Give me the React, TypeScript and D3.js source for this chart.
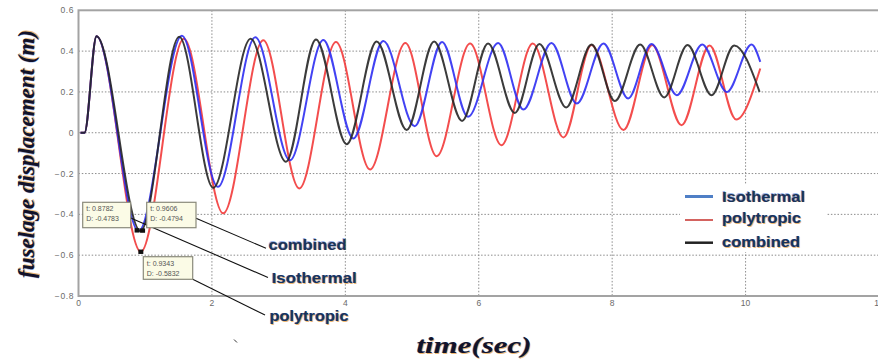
import React from 'react';
import * as d3 from 'd3';

const W = 878;
const H = 362;

// axis ticks
const xTicks = [0, 2, 4, 6, 8, 10, 12];
const yTicks = [-0.8, -0.6, -0.4, -0.2, 0, 0.2, 0.4, 0.6];

// isothermal (blue) - extrema
const isoT = [0.03, 0.09, 0.27, 0.9, 1.55, 2.09, 2.65, 3.17, 3.67, 4.12, 4.57, 5.04, 5.45, 5.84, 6.29, 6.67, 7.09, 7.47, 7.87, 8.24, 8.59, 8.97, 9.35, 9.72, 10.09, 10.22];
const isoD = [0, 0, 0.473, -0.482, 0.475, -0.265, 0.468, -0.135, 0.455, -0.028, 0.45, 0.032, 0.445, 0.078, 0.44, 0.114, 0.44, 0.143, 0.437, 0.168, 0.435, 0.184, 0.432, 0.2, 0.432, 0.347];

// polytropic (red)
const polyT = [0.03, 0.09, 0.27, 0.934, 1.58, 2.17, 2.77, 3.31, 3.86, 4.37, 4.9, 5.37, 5.87, 6.34, 6.81, 7.27, 7.69, 8.17, 8.6, 9.04, 9.46, 9.86, 10.22];
const polyD = [0, 0, 0.473, -0.583, 0.46, -0.395, 0.453, -0.273, 0.445, -0.18, 0.44, -0.115, 0.437, -0.061, 0.437, -0.023, 0.43, 0.013, 0.43, 0.037, 0.428, 0.065, 0.315];

// combined (black)
const combT = [0.03, 0.09, 0.27, 0.93, 1.51, 2.02, 2.58, 3.11, 3.56, 4.02, 4.47, 4.92, 5.33, 5.75, 6.14, 6.54, 6.91, 7.31, 7.69, 8.04, 8.42, 8.78, 9.13, 9.49, 9.83, 10.21];
const combD = [0, 0, 0.473, -0.482, 0.47, -0.27, 0.46, -0.142, 0.457, -0.056, 0.447, 0.013, 0.447, 0.058, 0.437, 0.097, 0.435, 0.124, 0.432, 0.155, 0.432, 0.173, 0.43, 0.184, 0.428, 0.2];

// data tips
const tipNames = ['isothermal', 'combined', 'polytropic'];
const tipT = [0.8782, 0.9606, 0.9343];
const tipD = [-0.4783, -0.4794, -0.5832];

const seriesNames = ['Isothermal', 'polytropic', 'combined'];

const x = d3.scaleLinear().domain([0, 12]).range([78.5, 879]);
const y = d3.scaleLinear().domain([-0.8, 0.6]).range([296, 10.3]);

const line = d3.line<[number, number]>()
  .x(d => x(d[0]))
  .y(d => y(d[1]))
  .curve(d3.curveMonotoneX);

const zip = (t: number[], v: number[]) => t.map((ti, i) => [ti, v[i]] as [number, number]);

// text with the slight colour fringe seen in the scan
const Fringe = ({ children, tf, ...p }: any) => (
  <g transform={tf}>
    <text {...p} fill="#e89a3a" opacity={0.7} transform="translate(0.9,0.6)">{children}</text>
    <text {...p} fill="#3a6fd8" opacity={0.5} transform="translate(-0.6,-0.4)">{children}</text>
    <text {...p}>{children}</text>
  </g>
);

export default function App() {
  const series = [
    { name: 'polytropic', pts: zip(polyT, polyD), color: '#f23a3a' },
    { name: 'isothermal', pts: zip(isoT, isoD), color: '#2e2ef2' },
    { name: 'combined', pts: zip(combT, combD), color: '#262626' },
  ];

  const tipBoxes = [
    { bx: 82.7, by: 202.3, bw: 48, bh: 25.4 },
    { bx: 146.7, by: 202.3, bw: 49.3, bh: 25.4 },
    { bx: 143.3, by: 256.7, bw: 49.4, bh: 22.6 },
  ];

  const labelFont = { fontFamily: 'Liberation Sans, Arial, sans-serif', fontWeight: 700, fontSize: 15, fill: '#17325e' };

  return (
    <svg width={W} height={H} style={{ position: 'absolute', left: 0, top: 0, background: '#fff' }}>
      {/* grid */}
      {xTicks.filter(t => t > 0 && t < 12).map(t => (
        <line key={'gx' + t} x1={x(t)} x2={x(t)} y1={y(0.6)} y2={y(-0.8)} stroke="#8c8c8c" strokeDasharray="1.5,1.8" />
      ))}
      {yTicks.filter(t => t > -0.8 && t < 0.6).map(t => (
        <line key={'gy' + t} x1={x(0)} x2={W} y1={y(t)} y2={y(t)} stroke="#8c8c8c" strokeDasharray="1.5,1.8" />
      ))}

      {/* legend background hides grid */}
      <rect x={680} y={184} width={147} height={68} fill="#fff" />

      {/* frame */}
      <rect x={x(0)} y={y(0.6)} width={W} height={y(-0.8) - y(0.6)} fill="none" stroke="#a3a3a3" strokeWidth={2} />

      {/* tick labels */}
      {yTicks.map(t => (
        <text key={'yl' + t} x={74} y={y(t) + 3} textAnchor="end" fontSize={8.5} letterSpacing={0.6}
          fontFamily="Liberation Sans, Arial, sans-serif" fill="#6a6a6a">{t === 0 ? '0' : d3.format('.1f')(t)}</text>
      ))}
      {xTicks.map(t => (
        <text key={'xl' + t} x={x(t)} y={306} textAnchor="middle" fontSize={8.5}
          fontFamily="Liberation Sans, Arial, sans-serif" fill="#6a6a6a">{t}</text>
      ))}

      {/* curves */}
      {series.map(s => (
        <path key={s.name} d={line(s.pts) || ''} fill="none" stroke={s.color} strokeWidth={2} strokeOpacity={0.9} />
      ))}

      {/* data tip leaders */}
      <line x1={130.7} y1={218} x2={268} y2={277.5} stroke="#111" strokeWidth={1.1} />
      <line x1={196} y1={218.3} x2={266} y2={248.3} stroke="#111" strokeWidth={1.1} />
      <line x1={192.7} y1={279.3} x2={265} y2={315} stroke="#111" strokeWidth={1.1} />

      {/* data tips */}
      {tipNames.map((n, i) => {
        const b = tipBoxes[i];
        return (
          <g key={n}>
            <rect x={x(tipT[i]) - 2.5} y={y(tipD[i]) - 2.2} width={5} height={4.4} fill="#111" />
            <rect x={b.bx} y={b.by} width={b.bw} height={b.bh} fill="#fbfbe6" stroke="#8a8a7a" strokeWidth={1.2} />
            <text x={b.bx + 3.5} y={b.by + 9} fontSize={7} fontFamily="Liberation Sans, Arial, sans-serif" fill="#555">{`t: ${tipT[i]}`}</text>
            <text x={b.bx + 3.5} y={b.by + 19} fontSize={7} fontFamily="Liberation Sans, Arial, sans-serif" fill="#555">{`D: ${tipD[i]}`}</text>
          </g>
        );
      })}

      {/* annotation labels */}
      <Fringe x={268.5} y={249.5} textLength={78} lengthAdjust="spacingAndGlyphs" {...labelFont}>combined</Fringe>
      <Fringe x={271.7} y={283} textLength={85} lengthAdjust="spacingAndGlyphs" {...labelFont}>Isothermal</Fringe>
      <Fringe x={269.5} y={321} textLength={79} lengthAdjust="spacingAndGlyphs" {...labelFont}>polytropic</Fringe>

      {/* legend */}
      {seriesNames.map((n, i) => {
        const ly = [196.5, 220, 242.7][i];
        const col = ['#4f7fc6', '#d0524e', '#222'][i];
        const sw = [3, 1.8, 2.5][i];
        const tl = [83, 79, 78][i];
        const by = [201.5, 223, 247][i];
        return (
          <g key={n}>
            <line x1={685} x2={713} y1={ly} y2={ly} stroke={col} strokeWidth={sw} />
            <Fringe x={722} y={by} textLength={tl} lengthAdjust="spacingAndGlyphs" {...labelFont}>{n}</Fringe>
          </g>
        );
      })}

      {/* axis titles */}
      <Fringe tf="translate(34,154) rotate(-90)" x={0} y={0} textAnchor="middle" textLength={248} lengthAdjust="spacingAndGlyphs"
        fontFamily="Liberation Serif, Times New Roman, serif" fontStyle="italic" fontWeight={700} fontSize={23} fill="#12122a">fuselage displacement (m)</Fringe>
      <Fringe x={474} y={353} textAnchor="middle" textLength={115} lengthAdjust="spacingAndGlyphs"
        fontFamily="Liberation Serif, Times New Roman, serif" fontStyle="italic" fontWeight={700} fontSize={23} fill="#12122a">time(sec)</Fringe>

      {/* stray mark */}
      <line x1={234} y1={339.5} x2={237} y2={342.5} stroke="#333" strokeWidth={1} />
    </svg>
  );
}
